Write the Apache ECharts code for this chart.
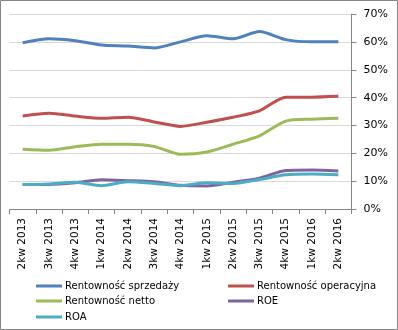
<!DOCTYPE html>
<html><head><meta charset="utf-8">
<script src="https://cdn.jsdelivr.net/npm/echarts@6/dist/echarts.min.js"></script>
<style>html,body{margin:0;padding:0;background:#fff}#c{width:398px;height:330px}</style>
</head><body><div id="c"></div>
<script>
const categories = ['2kw 2013','3kw 2013','4kw 2013','1kw 2014','2kw 2014','3kw 2014','4kw 2014','1kw 2015','2kw 2015','3kw 2015','4kw 2015','1kw 2016','2kw 2016'];
const rentSprzedazy = [59.8, 61.2, 60.5, 59.0, 58.6, 57.9, 60.1, 62.3, 61.2, 63.8, 60.9, 60.1, 60.1];
const rentOperacyjna = [33.4, 34.4, 33.4, 32.6, 33.0, 31.3, 29.7, 31.2, 33.0, 35.3, 40.2, 40.2, 40.5];
const rentNetto = [21.5, 21.1, 22.4, 23.3, 23.3, 22.5, 19.7, 20.5, 23.3, 26.3, 31.6, 32.3, 32.6];
const roe = [8.8, 8.8, 9.4, 10.5, 10.2, 9.8, 8.5, 8.3, 9.6, 11.1, 13.8, 14.0, 13.7];
const roa = [8.8, 9.0, 9.6, 8.4, 9.8, 9.2, 8.4, 9.4, 9.2, 10.6, 12.3, 12.6, 12.3];
const yTicks = [0, 10, 20, 30, 40, 50, 60, 70];

const names = ['Rentowność sprzedaży','Rentowność operacyjna','Rentowność netto','ROE','ROA'];
const colors = ['#4F81BD','#C0504D','#9BBB59','#8064A2','#4BACC6'];
const dataSets = [rentSprzedazy, rentOperacyjna, rentNetto, roe, roa];
const font = 'DejaVu Sans';
const legendPos = [[36,281],[228,281],[36,296],[228,296],[36,312]];

const chart = echarts.init(document.getElementById('c'));
chart.setOption({
  animation: false,
  textStyle: {fontFamily: font},
  grid: {left: 9.5, right: 46.5, top: 14.3, bottom: 121},
  xAxis: {
    type: 'category', data: categories, boundaryGap: true,
    axisLine: {lineStyle: {color: '#868686', width: 1}},
    axisTick: {show: true, length: 5, lineStyle: {color: '#868686'}},
    axisLabel: {rotate: 90, color: '#000', fontFamily: font, fontSize: 10.5, margin: 9, interval: 0}
  },
  yAxis: {
    type: 'value', position: 'right', min: yTicks[0], max: yTicks[yTicks.length-1], interval: 10,
    axisLine: {show: true, lineStyle: {color: '#868686'}},
    axisTick: {show: true, length: 5, inside: false, lineStyle: {color: '#868686'}},
    splitLine: {lineStyle: {color: '#D9D9D9'}},
    axisLabel: {color: '#000', fontFamily: font, fontSize: 11, margin: 12, formatter: v => v + '%'}
  },
  legend: names.map((n, i) => ({
    data: [n], left: legendPos[i][0], top: legendPos[i][1], padding: 0,
    icon: 'rect', itemWidth: 26, itemHeight: 3, itemGap: 0,
    textStyle: {color: '#000', fontFamily: font, fontSize: 10, padding: [0,0,0,-2]}
  })),
  series: names.map((n, i) => ({
    name: n, type: 'line', data: dataSets[i], smooth: 0.25, symbol: 'none',
    lineStyle: {color: colors[i], width: 3}, itemStyle: {color: colors[i]}
  })),
  graphic: [{type: 'rect', shape: {x: 0.5, y: 0.5, width: 397, height: 329},
    style: {fill: 'none', stroke: '#868686', lineWidth: 1}, silent: true}]
});
</script></body></html>
